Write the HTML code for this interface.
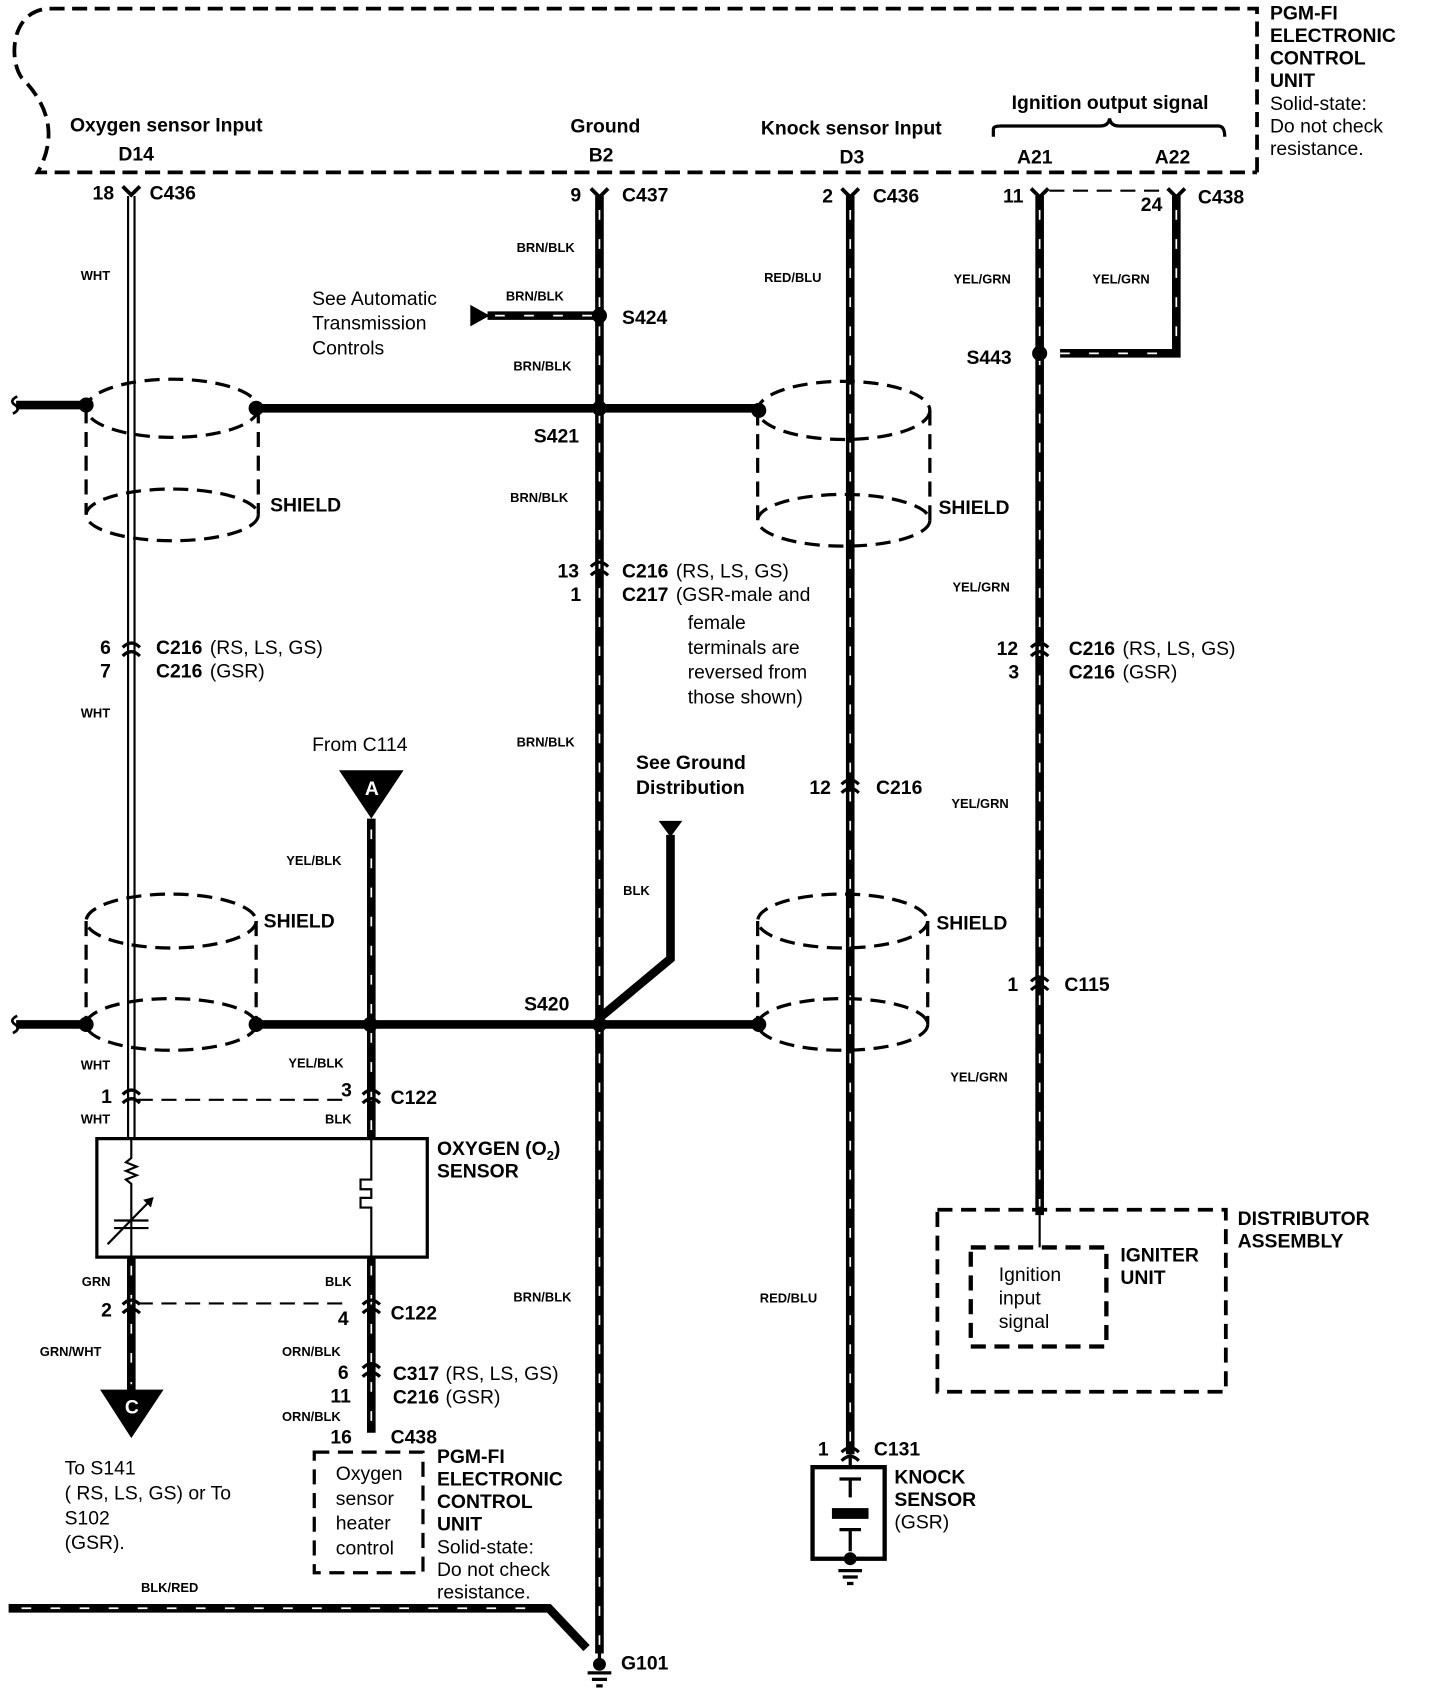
<!DOCTYPE html>
<html><head><meta charset="utf-8"><style>
html,body{margin:0;padding:0;background:#fff}
svg{display:block}
text{font-family:"Liberation Sans",sans-serif;fill:#000}
.b{font-weight:bold;font-size:18px}
.n{font-size:18px}
.s{font-weight:bold;font-size:12px}
</style></head><body>
<svg width="1440" height="1688" viewBox="0 0 1338 1567" preserveAspectRatio="none" xmlns="http://www.w3.org/2000/svg">
<defs>
<g id="fc"><path d="M-8,-7 L0,1 L8,-7" fill="none" stroke="#000" stroke-width="3.5"/></g>
<g id="mc"><path d="M-8,-2 Q0,-10 8,-2 M-8,6 Q0,-2 8,6" fill="none" stroke="#000" stroke-width="3"/></g>
</defs>
<g fill="none" stroke="#000">
<path d="M1168,160 L1168,8 L45,8 C10,10 8,55 20,72 C48,100 52,130 35,160 L1168,160" stroke-width="3.5" stroke-dasharray="14 7"/>
<path d="M923,127 L923,120 Q923,117 930,117 L1022,117 Q1030,117 1031,110 Q1032,117 1040,117 L1132,117 Q1138,117 1138,127" stroke-width="3"/>
<path d="M119,182 V1057 M125,182 V1057" stroke-width="2"/>
<g stroke-width="8">
<path d="M557,182 V1535"/>
<path d="M790,182 V1350"/>
<path d="M966,182 V1128"/>
<path d="M1093,182 V328 H985"/>
<path d="M453,293 H557"/>
<path d="M15,376 H80 M238,379 H705"/>
<path d="M15,951 H80 M238,951 H705"/>
<path d="M345,760 V1057 M345,1167 V1330 M122,1167 V1292"/>
<path d="M557,945 L623,890 V775"/>
<path d="M8,1493 H510 L545,1530"/>
</g>
<g stroke="#fff" stroke-width="1.6" stroke-dasharray="9 18">
<path d="M557,195 V1530 M790,195 V1345 M966,195 V1120 M1093,195 V322 M345,770 V1050 M345,1175 V1325 M122,1175 V1285 M460,293 H550 M20,1493 H505 M985,328 H1088"/>
</g>
<path d="M16,368 q-8,4 -2,8 q6,4 -2,8 M16,943 q-8,4 -2,8 q6,4 -2,8" stroke-width="2.5"/>
<path d="M975,177 H1085 M128,1021 H320 M128,1210 H320" stroke-width="2" stroke-dasharray="14 8"/>
<g stroke-width="3" stroke-dasharray="14 8">
<ellipse cx="160" cy="379" rx="80" ry="27"/><ellipse cx="160" cy="478" rx="80" ry="24"/><path d="M80,379 V478 M240,379 V478"/>
<ellipse cx="784" cy="381" rx="80" ry="27"/><ellipse cx="784" cy="483" rx="80" ry="24"/><path d="M704,381 V483 M864,381 V483"/>
<ellipse cx="159" cy="855" rx="79" ry="25"/><ellipse cx="159" cy="951" rx="79" ry="24"/><path d="M80,855 V951 M238,855 V951"/>
<ellipse cx="783" cy="855" rx="79" ry="25"/><ellipse cx="783" cy="951" rx="79" ry="24"/><path d="M704,855 V951 M862,855 V951"/>
<rect x="292" y="1348" width="101" height="112"/>
<rect x="871" y="1123" width="268" height="169" stroke-width="3.5"/>
<rect x="902" y="1158" width="126" height="92" stroke-width="4"/>
</g>
<path d="M966,1128 V1158" stroke-width="2"/>
<rect x="90" y="1057" width="307" height="110" stroke-width="3"/>
<path d="M122,1057 V1075 l-5,4 10,4 -10,4 10,4 -10,4 5,4 V1167 M106,1133 H138 M106,1140 H138 M100,1155 L142,1112 M345,1057 V1095 h-10 v9 h10 v8 h-10 v9 h10 V1167" stroke-width="2"/>
<path d="M142,1112 l-8,2 6,6z" fill="#000"/>
<rect x="755" y="1362" width="67" height="85" stroke-width="4"/>
<path d="M790,1350 V1362 M780,1373 H800 M790,1373 V1390 M780,1420 H800 M790,1420 V1440 M779,1458 H801 M783,1464 H797 M787,1470 H793" stroke-width="3"/>
<path d="M557,1548 V1535 M546,1553 H568 M550,1559 H564 M554,1565 H560" stroke-width="3"/>
</g>
<rect x="773" y="1400" width="34" height="10" fill="#000"/>
<circle cx="790" cy="1447" r="6" fill="#000"/><circle cx="557" cy="1545" r="6" fill="#000"/>
<use href="#fc" x="122" y="180"/><use href="#fc" x="557" y="182"/><use href="#fc" x="790" y="182"/><use href="#fc" x="966" y="182"/><use href="#fc" x="1093" y="182"/>
<use href="#mc" x="122" y="603"/><use href="#mc" x="557" y="528"/><use href="#mc" x="966" y="603"/><use href="#mc" x="790" y="730"/><use href="#mc" x="966" y="913"/>
<use href="#mc" x="122" y="1018"/><use href="#mc" x="345" y="1018"/><use href="#mc" x="122" y="1213"/><use href="#mc" x="345" y="1213"/><use href="#mc" x="345" y="1272"/><use href="#mc" x="790" y="1350"/>
<g fill="#000">
<circle cx="557" cy="293" r="7"/><circle cx="80" cy="376" r="7"/><circle cx="238" cy="379" r="7"/><circle cx="557" cy="379" r="7"/><circle cx="705" cy="381" r="7"/>
<circle cx="966" cy="328" r="7"/>
<circle cx="80" cy="951" r="7"/><circle cx="238" cy="951" r="7"/><circle cx="344" cy="951" r="7"/><circle cx="557" cy="951" r="7"/><circle cx="705" cy="951" r="7"/>
<path d="M437,283 L455,293 L437,303Z"/>
<path d="M315,715 L375,715 L345,760Z"/>
<path d="M93,1290 L152,1290 L122,1335Z"/>
<path d="M612,762 L634,762 L623,777Z"/>
</g>
<text x="339" y="738" font-size="18" font-weight="bold" style="fill:#fff">A</text>
<text x="116" y="1312" font-size="18" font-weight="bold" style="fill:#fff">C</text>
<g class="b">
<text x="1180" y="18">PGM-FI</text><text x="1180" y="39">ELECTRONIC</text><text x="1180" y="60">CONTROL</text><text x="1180" y="81">UNIT</text>
<text x="65" y="122">Oxygen sensor Input</text><text x="110" y="149">D14</text>
<text x="530" y="123">Ground</text><text x="547" y="150">B2</text>
<text x="707" y="125">Knock sensor Input</text><text x="780" y="152">D3</text>
<text x="940" y="101">Ignition output signal</text><text x="945" y="152">A21</text><text x="1073" y="152">A22</text>
<text x="86" y="185">18</text><text x="139" y="185">C436</text>
<text x="530" y="187">9</text><text x="578" y="187">C437</text>
<text x="764" y="188">2</text><text x="811" y="188">C436</text>
<text x="932" y="188">11</text><text x="1060" y="196">24</text><text x="1113" y="189">C438</text>
<text x="578" y="301">S424</text><text x="898" y="338">S443</text><text x="496" y="411">S421</text>
<text x="251" y="475">SHIELD</text><text x="872" y="477">SHIELD</text><text x="245" y="861">SHIELD</text><text x="870" y="863">SHIELD</text>
<text x="518" y="536">13</text><text x="578" y="536">C216</text><text x="530" y="558">1</text><text x="578" y="558">C217</text>
<text x="93" y="607">6</text><text x="145" y="607">C216</text><text x="93" y="629">7</text><text x="145" y="629">C216</text>
<text x="926" y="608">12</text><text x="993" y="608">C216</text><text x="937" y="630">3</text><text x="993" y="630">C216</text>
<text x="752" y="737">12</text><text x="814" y="737">C216</text>
<text x="591" y="714">See Ground</text><text x="591" y="737">Distribution</text>
<text x="936" y="920">1</text><text x="989" y="920">C115</text>
<text x="487" y="938">S420</text>
<text x="94" y="1024">1</text><text x="317" y="1018">3</text><text x="363" y="1025">C122</text>
<text x="406" y="1072">OXYGEN (O<tspan font-size="12" dy="5">2</tspan><tspan dy="-5">)</tspan></text><text x="406" y="1093">SENSOR</text>
<text x="94" y="1222">2</text><text x="314" y="1230">4</text><text x="363" y="1225">C122</text>
<text x="314" y="1280">6</text><text x="365" y="1281">C317</text><text x="307" y="1302">11</text><text x="365" y="1303">C216</text>
<text x="307" y="1340">16</text><text x="363" y="1340">C438</text>
<text x="406" y="1358">PGM-FI</text><text x="406" y="1379">ELECTRONIC</text><text x="406" y="1400">CONTROL</text><text x="406" y="1421">UNIT</text>
<text x="1041" y="1171">IGNITER</text><text x="1041" y="1192">UNIT</text>
<text x="1150" y="1137">DISTRIBUTOR</text><text x="1150" y="1158">ASSEMBLY</text>
<text x="760" y="1351">1</text><text x="812" y="1351">C131</text>
<text x="831" y="1377">KNOCK</text><text x="831" y="1398">SENSOR</text>
<text x="577" y="1550">G101</text>
</g>
<g class="n">
<text x="1180" y="102">Solid-state:</text><text x="1180" y="123">Do not check</text><text x="1180" y="144">resistance.</text>
<text x="290" y="283">See Automatic</text><text x="290" y="306">Transmission</text><text x="290" y="329">Controls</text>
<text x="628" y="536">(RS, LS, GS)</text><text x="628" y="558">(GSR-male and</text><text x="639" y="584">female</text><text x="639" y="607">terminals are</text><text x="639" y="630">reversed from</text><text x="639" y="653">those shown)</text>
<text x="195" y="607">(RS, LS, GS)</text><text x="195" y="629">(GSR)</text>
<text x="1043" y="608">(RS, LS, GS)</text><text x="1043" y="630">(GSR)</text>
<text x="290" y="697">From C114</text>
<text x="414" y="1281">(RS, LS, GS)</text><text x="414" y="1303">(GSR)</text>
<text x="60" y="1369">To S141</text><text x="60" y="1392">( RS, LS, GS) or To</text><text x="60" y="1415">S102</text><text x="60" y="1438">(GSR).</text>
<text x="312" y="1374">Oxygen</text><text x="312" y="1397">sensor</text><text x="312" y="1420">heater</text><text x="312" y="1443">control</text>
<text x="406" y="1442">Solid-state:</text><text x="406" y="1463">Do not check</text><text x="406" y="1484">resistance.</text>
<text x="928" y="1189">Ignition</text><text x="928" y="1211">input</text><text x="928" y="1233">signal</text>
<text x="831" y="1419">(GSR)</text>
</g>
<g class="s">
<text x="75" y="260">WHT</text><text x="75" y="666">WHT</text><text x="75" y="993">WHT</text><text x="75" y="1043">WHT</text>
<text x="480" y="234">BRN/BLK</text><text x="470" y="279">BRN/BLK</text><text x="477" y="344">BRN/BLK</text><text x="474" y="466">BRN/BLK</text><text x="480" y="693">BRN/BLK</text><text x="477" y="1208">BRN/BLK</text>
<text x="710" y="262">RED/BLU</text><text x="706" y="1209">RED/BLU</text>
<text x="886" y="263">YEL/GRN</text><text x="1015" y="263">YEL/GRN</text><text x="885" y="549">YEL/GRN</text><text x="884" y="750">YEL/GRN</text><text x="883" y="1004">YEL/GRN</text>
<text x="266" y="803">YEL/BLK</text><text x="268" y="991">YEL/BLK</text><text x="302" y="1043">BLK</text><text x="302" y="1194">BLK</text>
<text x="579" y="831">BLK</text><text x="76" y="1194">GRN</text><text x="37" y="1259">GRN/WHT</text>
<text x="262" y="1259">ORN/BLK</text><text x="262" y="1319">ORN/BLK</text>
<text x="131" y="1478">BLK/RED</text>
</g>
</svg>
</body></html>
